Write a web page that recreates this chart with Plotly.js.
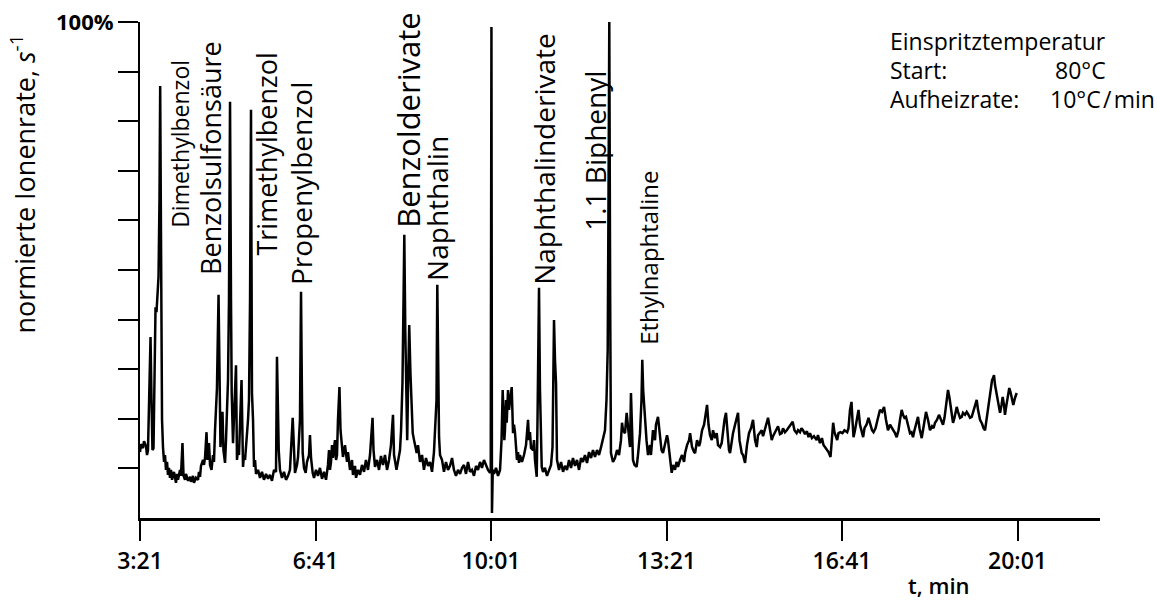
<!DOCTYPE html>
<html>
<head>
<meta charset="utf-8">
<script src="https://cdn.plot.ly/plotly-3.0.1.min.js"></script>
<style>
  html, body { margin: 0; padding: 0; background: #fff; }
  #chart { width: 1157px; height: 601px; }
</style>
</head>
<body>
<div id="chart"></div>
<script>
// Retention time in seconds (3:21 = 201 s)
const timeSec = [
  201.0,202.1,204.4,205.6,207.8,209.0,210.1,211.3,213.0,214.1,215.2,216.4,217.5,218.7,219.8,220.9,222.1,223.2,224.0,224.7,225.3,226.1,227.2,228.4,229.5,230.6,231.8,232.9,234.0,
  235.2,236.3,237.5,239.7,240.9,242.0,243.2,244.3,246.6,247.7,249.4,250.6,252.3,253.4,255.7,258.0,259.1,261.4,262.5,264.8,267.1,268.2,269.4,
  270.5,272.8,273.9,275.1,276.8,277.9,279.6,280.8,282.5,284.2,285.3,286.5,287.6,288.7,290.5,291.6,292.7,293.9,295.0,296.1,297.9,299.0,300.1,301.3,302.4,303.6,304.7,305.5,307.0,308.2,309.3,310.4,311.5,312.7,313.8,315.0,316.7,318.4,319.5,320.7,322.4,324.1,325.2,326.4,327.5,328.6,329.8,330.9,332.1,333.2,335.5,337.8,
  340.0,342.3,344.6,346.9,349.1,351.4,353.7,356.0,357.1,358.3,359.1,360.5,362.8,365.1,367.4,369.7,371.9,375.0,376.5,377.6,379.9,381.1,383.3,384.5,385.6,386.4,387.9,389.8,391.3,393.6,394.7,395.9,397.8,399.3,401.6,403.8,406.1,408.4,410.7,413.0,415.2,416.4,417.5,
  418.7,419.8,420.9,422.1,423.2,424.4,425.5,426.6,428.3,429.5,431.2,432.3,434.6,436.9,438.0,440.3,442.6,443.7,446.0,447.2,449.4,451.7,454.0,456.3,458.5,460.8,463.1,464.2,466.0,467.1,468.8,471.1,473.4,475.6,477.9,480.2,482.5,484.8,487.0,489.3,490.5,493.3,495.0,497.3,498.5,500.1,501.3,502.2,503.3,504.5,505.5,506.6,507.8,509.2,510.4,511.8,513.3,516.3,517.8,520.1,522.4,524.6,526.9,529.2,531.5,533.8,536.0,537.8,538.9,539.8,541.0,541.8,542.9,545.2,547.4,549.7,552.0,554.3,556.6,558.8,561.1,563.4,565.7,568.0,570.2,572.5,574.8,577.1,579.3,581.6,583.9,586.2,588.5,590.7,593.0,595.3,597.6,599.9,
  600.7,601.5,602.1,603.0,604.4,606.7,609.0,611.3,613.0,614.3,615.2,616.2,616.9,618.1,618.9,620.4,621.5,622.7,624.6,626.1,627.2,628.4,629.5,630.6,631.8,632.9,634.0,636.3,638.6,640.9,643.2,644.3,645.4,646.6,648.9,650.0,651.1,653.1,654.0,654.8,655.7,656.8,658.8,660.3,662.5,664.8,667.1,669.4,671.1,672.0,672.8,673.9,675.1,676.2,678.5,680.8,683.1,685.3,687.6,689.9,692.2,694.4,696.7,699.0,701.3,703.6,705.8,708.1,710.4,712.7,715.0,717.2,719.5,721.8,724.1,726.4,728.6,730.9,732.6,734.0,734.9,735.8,736.8,737.7,740.0,742.3,744.6,746.9,749.1,750.3,751.4,753.7,755.6,757.1,759.4,760.5,761.7,762.8,764.5,767.0,768.5,770.8,772.5,773.4,774.4,776.5,778.2,779.9,782.2,783.3,785.6,787.9,789.0,791.3,793.6,795.3,797.0,799.3,801.6,802.7,805.0,806.9,808.4,810.7,812.4,814.1,816.4,818.7,821.0,822.2,824.4,826.7,827.9,830.1,832.4,833.6,835.8,838.1,839.2,841.5,843.8,844.9,847.2,848.9,850.6,852.6,854.0,856.3,858.2,859.7,862.0,863.9,865.4,867.1,868.8,870.5,872.2,873.4,875.1,876.8,879.1,880.8,882.5,884.2,886.7,888.2,890.5,892.7,895.0,897.3,899.6,901.9,903.8,905.3,907.6,909.5,911.0,913.3,915.5,916.7,919.0,920.9,922.4,924.6,926.6,928.1,930.3,932.3,933.8,936.0,938.0,939.5,941.7,944.8,946.8,949.3,950.9,953.1,954.8,956.5,958.8,961.0,962.8,964.5,966.7,969.0,972.1,973.6,975.9,978.1,979.9,981.6,983.9,985.6,987.9,989.6,990.9,992.4,994.1,995.5,997.0,999.2,1001.5,1003.8,1006.9,1008.4,1010.1,1011.8,1012.9,1014.1,1015.8,1017.5,1019.8,1021.5,1023.2,1025.1,1026.6,1028.9,1031.2,1033.5,1035.2,1036.9,1039.2,1041.5,1043.2,1044.3,1046.6,1048.9,1051.1,1053.4,1055.7,1057.6,1059.7,1061.4,1063.3,1065.4,1067.1,1069.0,1070.5,1072.2,1073.9,1076.2,1078.5,1080.2,1081.9,1083.6,1085.3,1087.6,1089.3,1091.8,1093.3,1095.0,1096.7,1099.0,1101.3,1103.6,1105.3,1107.0,1109.3,1111.5,1113.8,1116.1,1117.8,1119.5,1120.7,1121.8,1123.5,1125.2,1126.4,1127.5,1129.2,1131.7,1133.2,1135.5,1137.4,1138.9,1141.2,1143.1,1144.6,1146.9,1148.8,1150.3,1152.6,1154.5,1156.0,1158.3,1160.6,1162.3,1164.0,1165.7,1167.4,1169.1,1170.5,1172.0,1173.1,1174.2,1175.4,1176.5,1178.0,1179.3,1181.1,1182.8,1184.1,1185.6,1186.7,1188.4,1190.1,1191.6,1193.0,1194.7,1196.2,1198.1,1200.1
];
// Normalised ion rate in percent
const ionRate = [
  13.3,14.9,14.1,15.5,14.5,12.7,13.7,23.8,36.5,23.8,13.7,14.1,29.4,42.5,41.5,44.0,48.6,64.1,87.1,64.1,33.9,19.8,14.3,11.3,12.7,9.7,11.3,8.7,10.1,
  8.1,9.7,7.7,9.3,8.3,7.1,8.9,7.7,9.7,8.5,15.1,8.5,7.7,8.9,7.5,8.3,7.3,8.5,7.1,8.1,7.7,9.3,8.3,
  10.5,11.7,10.7,12.1,17.3,11.7,15.1,10.7,9.7,12.7,11.3,17.7,23.8,26.2,45.0,23.8,14.3,17.7,21.4,13.7,11.1,15.7,23.8,27.8,44.0,83.9,44.0,25.2,15.1,19.8,24.8,30.8,11.7,13.7,12.7,19.8,27.8,10.3,12.7,11.7,15.1,19.8,23.8,44.0,82.3,25.2,19.8,10.3,11.7,8.9,9.7,8.1,
  9.3,7.7,8.9,7.9,8.7,7.5,9.7,9.3,32.5,19.8,13.7,9.7,8.1,9.3,7.7,8.5,9.7,20.2,11.7,9.1,10.7,12.3,19.8,45.6,23.8,13.1,10.1,9.1,11.3,12.7,16.7,12.1,9.1,8.1,9.7,8.5,10.1,7.9,9.3,7.7,10.7,13.7,9.7,
  11.3,14.7,12.1,14.1,15.7,11.7,12.7,19.8,26.4,17.7,13.7,12.3,14.7,11.3,13.3,9.7,11.7,8.7,10.5,8.1,9.7,8.7,10.7,9.3,11.7,9.7,12.7,15.7,20.2,13.7,10.3,11.7,9.7,12.5,10.7,12.7,9.7,11.7,14.7,20.8,12.7,9.7,11.7,13.7,17.7,27.2,44.0,57.1,37.9,26.4,15.7,27.8,38.9,29.2,24.8,17.1,15.7,13.1,14.7,11.3,12.7,9.7,12.1,10.5,11.3,9.3,13.3,18.8,23.8,47.0,19.8,16.3,12.7,11.7,9.3,11.3,9.7,10.5,12.1,9.7,8.5,9.7,8.9,10.1,10.7,8.9,11.3,9.3,9.7,8.5,10.5,9.7,11.3,10.1,11.7,10.7,9.7,9.1,
  9.7,99.0,1.0,9.7,8.9,10.1,8.5,9.7,15.7,25.8,19.8,15.7,17.7,23.8,19.2,25.8,21.8,23.8,26.4,17.1,18.8,17.1,14.7,11.7,13.3,11.1,12.7,11.3,12.7,14.7,19.8,15.7,17.3,14.1,13.7,15.7,11.7,8.3,19.8,33.9,46.4,25.8,10.3,9.3,10.1,8.5,9.7,10.7,14.3,23.8,39.9,31.9,27.2,11.7,9.7,11.3,9.3,10.5,9.7,11.7,10.1,12.1,10.5,11.7,9.7,12.1,11.3,12.7,11.1,13.3,12.1,13.7,12.3,13.7,12.7,14.3,15.7,17.7,23.8,33.9,64.1,100.0,44.0,13.1,11.3,12.1,13.7,12.7,15.7,19.2,17.7,17.1,21.2,17.7,14.3,25.2,15.7,11.7,10.7,10.3,12.7,17.1,23.8,31.9,25.8,19.8,15.7,12.7,14.7,12.7,17.7,15.7,18.8,20.4,15.7,13.7,13.1,14.7,16.7,15.7,11.7,9.1,10.7,9.7,11.3,10.3,11.7,12.7,11.3,13.1,14.7,15.7,17.1,14.3,13.3,13.1,15.7,14.5,15.1,17.7,18.8,20.4,22.8,18.8,16.7,15.7,17.7,16.1,17.1,14.7,14.3,15.1,17.7,19.8,21.2,16.7,13.7,13.1,15.7,17.1,18.8,19.8,21.2,15.7,13.1,12.7,11.1,14.7,17.1,18.1,19.8,15.7,14.3,16.7,17.3,17.7,16.5,18.3,19.4,20.2,17.7,15.7,16.5,17.3,17.7,18.5,16.9,17.1,18.1,17.3,17.7,18.1,18.8,19.4,17.7,17.1,17.7,17.3,18.1,17.7,16.9,17.5,16.3,17.1,16.1,16.5,15.7,16.7,15.1,16.1,14.7,14.3,13.9,13.3,12.3,15.7,19.2,17.3,16.5,15.7,17.1,17.3,17.1,17.7,17.3,18.1,21.8,23.4,19.8,16.3,17.7,19.8,21.8,18.8,17.3,16.3,18.1,18.8,20.2,18.8,17.7,17.3,18.1,19.8,20.8,21.8,21.4,22.4,19.8,17.7,18.8,18.3,17.7,17.1,16.3,17.7,19.8,21.8,20.8,20.2,20.4,18.8,17.1,17.3,16.3,17.7,18.8,20.4,18.1,16.1,17.7,19.8,21.4,19.8,17.7,18.5,18.1,19.2,19.8,20.8,19.8,18.8,20.2,22.8,24.8,25.8,24.2,22.4,20.8,19.2,20.2,22.4,21.4,20.2,20.4,21.2,20.8,21.4,21.0,20.2,20.4,21.4,22.8,23.8,21.8,19.8,19.0,18.1,17.7,19.8,22.4,24.8,26.4,27.8,28.2,28.8,26.8,25.8,24.4,22.8,21.2,22.8,24.4,22.8,20.8,22.8,24.8,26.2,25.4,24.2,22.8,24.2,25.2
];
const tickSec = [201, 401, 601, 801, 1001, 1201];
const tickText = ["3:21", "6:41", "10:01", "13:21", "16:41", "20:01"];
const yMajorVals = [100];
const yMajorText = ["100%"];
const yMinorVals = [10, 20, 30, 40, 50, 60, 70, 80, 90];
const peakNames = ["Dimethylbenzol", "Benzolsulfonsäure", "Trimethylbenzol", "Propenylbenzol",
  "Benzolderivate", "Naphthalin", "Naphthalinderivate", "1.1 Biphenyl", "Ethylnaphtaline"];
const peakTimeSec = [246.6, 281.9, 345.7, 385.3, 506.4, 540.0, 661.4, 719.5, 781.0];
const peakLabelLevel = [58.1, 48.6, 52.6, 46.6, 58.1, 47.4, 46.6, 57.5, 34.5];
const conditionLines = [["Einspritztemperatur", ""], ["Start:", "80°C"], ["Aufheizrate:", "10°C\u200A/\u200Amin"]];

const FONT = "Open Sans, Noto Sans, DejaVu Sans, sans-serif";
const labelSizes = [23, 27, 27, 28, 31, 28, 28, 28, 24];

const annotations = [];
peakNames.forEach((name, i) => {
  annotations.push({
    x: peakTimeSec[i], y: peakLabelLevel[i], xref: "x", yref: "y",
    text: name, textangle: -90, showarrow: false,
    xanchor: "center", yanchor: "bottom",
    font: { family: FONT, size: labelSizes[i], color: "#000" }
  });
});
// y-axis title
annotations.push({
  xref: "paper", yref: "paper", x: -0.1225, y: 0.673,
  text: "normierte Ionenrate, <i>s</i><sup>-1</sup>", textangle: -90, showarrow: false,
  xanchor: "center", yanchor: "middle",
  font: { family: FONT, size: 27, color: "#000" }
});
// x-axis title
annotations.push({
  xref: "paper", yref: "paper", x: 0.832, y: -0.135,
  text: "t, min", showarrow: false, xanchor: "center", yanchor: "middle",
  font: { family: FONT, size: 22, color: "#000", weight: 600 }
});
// conditions box
const rowY = [0.962, 0.903, 0.844];
conditionLines.forEach((row, i) => {
  annotations.push({
    xref: "paper", yref: "paper", x: 0.779, y: rowY[i], text: row[0],
    showarrow: false, xanchor: "left", yanchor: "middle",
    font: { family: FONT, size: 23, color: "#000" }
  });
  if (row[1]) {
    annotations.push({
      xref: "paper", yref: "paper", x: i === 1 ? 0.951 : 0.946, y: rowY[i], text: row[1],
      showarrow: false, xanchor: "left", yanchor: "middle",
      font: { family: FONT, size: 23, color: "#000" }
    });
  }
});

const trace = {
  x: timeSec, y: ionRate, type: "scatter", mode: "lines",
  line: { color: "#000", width: 2.5 }, hoverinfo: "skip", showlegend: false
};

const layout = {
  width: 1157, height: 601,
  margin: { l: 140, r: 57, t: 22, b: 83 },
  paper_bgcolor: "#fff", plot_bgcolor: "#fff",
  font: { family: FONT, color: "#000" },
  showlegend: false,
  xaxis: {
    range: [201, 1295], tickmode: "array", tickvals: tickSec, ticktext: tickText,
    ticks: "outside", ticklen: 20, tickwidth: 2, tickcolor: "#000",
    showline: true, linecolor: "#000", linewidth: 3,
    showgrid: false, zeroline: false,
    tickfont: { family: FONT, size: 23, color: "#000", weight: 600 },
    ticklabelstandoff: 0
  },
  yaxis: {
    range: [0, 100], tickmode: "array", tickvals: yMajorVals, ticktext: yMajorText,
    ticks: "outside", ticklen: 20, tickwidth: 2, tickcolor: "#000",
    minor: { tickmode: "array", tickvals: yMinorVals, ticks: "outside", ticklen: 20, tickwidth: 2, tickcolor: "#000", showgrid: false },
    showline: true, linecolor: "#000", linewidth: 2,
    showgrid: false, zeroline: false,
    tickfont: { family: FONT, size: 22, color: "#000", weight: "bold" },
    ticklabelstandoff: 0
  },
  annotations: annotations
};

Plotly.newPlot("chart", [trace], layout, { displayModeBar: false, staticPlot: true });
</script>
</body>
</html>
